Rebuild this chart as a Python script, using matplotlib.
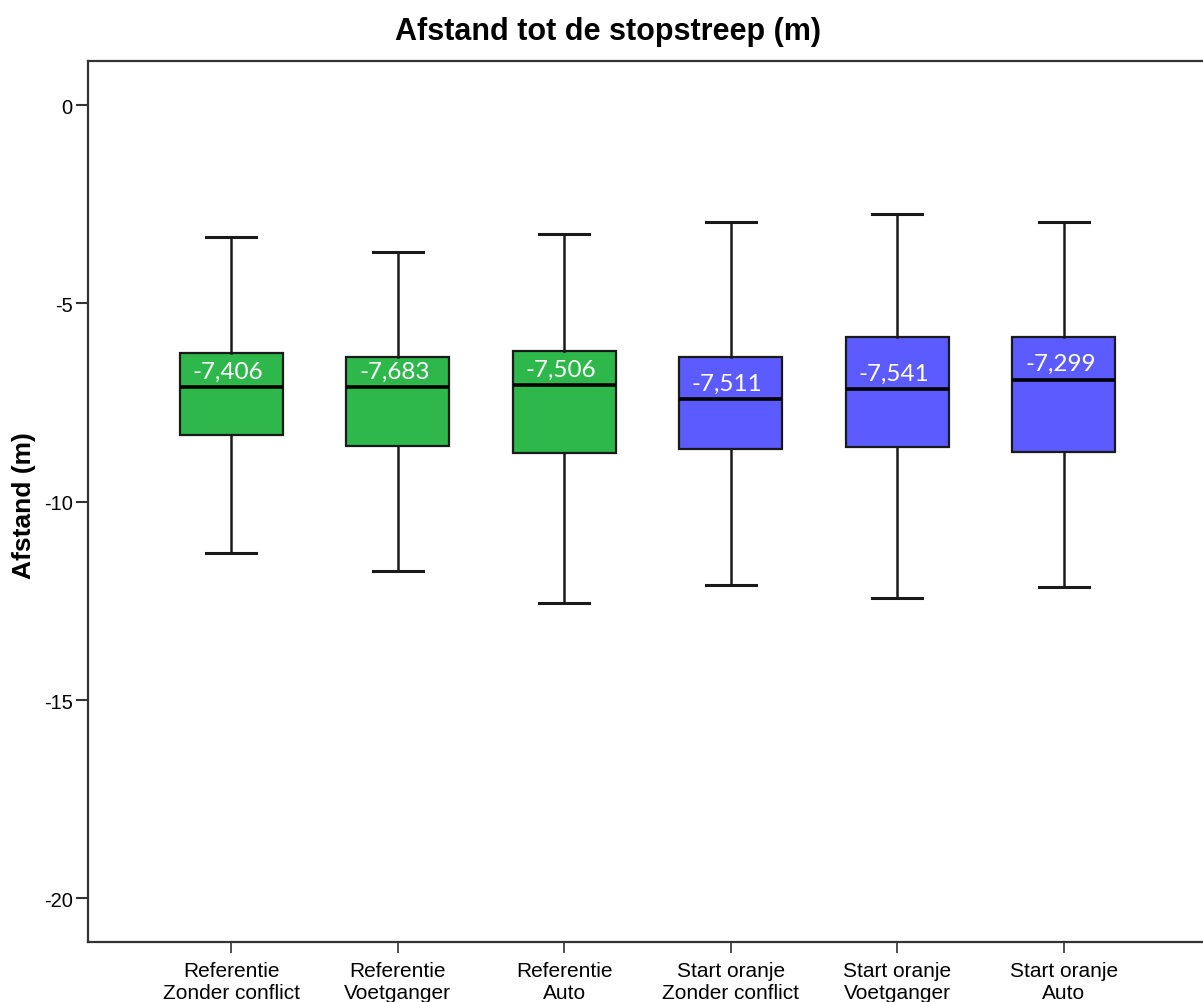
import matplotlib
matplotlib.use("Agg")
import matplotlib.pyplot as plt

plt.rcParams["font.family"] = ["Liberation Sans", "DejaVu Sans"]
plt.rcParams["axes.unicode_minus"] = False

# Groups and their box statistics (m)
categories = ["Referentie\nZonder conflict", "Referentie\nVoetganger", "Referentie\nAuto",
              "Start oranje\nZonder conflict", "Start oranje\nVoetganger", "Start oranje\nAuto"]
whisker_high = [-3.33, -3.71, -3.26, -2.95, -2.74, -2.94]
q3 = [-6.25, -6.36, -6.21, -6.36, -5.85, -5.85]
median = [-7.11, -7.11, -7.07, -7.41, -7.17, -6.92]
q1 = [-8.33, -8.59, -8.78, -8.67, -8.63, -8.75]
whisker_low = [-11.30, -11.75, -12.56, -12.09, -12.43, -12.16]
mean_labels = ["-7,406", "-7,683", "-7,506", "-7,511", "-7,541", "-7,299"]
colors = ["#2EB84B", "#2EB84B", "#2EB84B", "#5B5BFF", "#5B5BFF", "#5B5BFF"]
yticks = [0, -5, -10, -15, -20]

fig = plt.figure(figsize=(12.03, 10.03), dpi=100)
ax = fig.add_axes([0.0732, 0.0598, 0.93, 0.878])

stats = []
for i in range(len(categories)):
    stats.append(dict(med=median[i], q1=q1[i], q3=q3[i],
                      whislo=whisker_low[i], whishi=whisker_high[i], fliers=[]))

positions = list(range(1, len(categories) + 1))
bp = ax.bxp(stats, positions=positions, widths=0.62, capwidths=0.30,
            showfliers=False, patch_artist=True,
            boxprops=dict(linewidth=1.6, edgecolor="#1a1a1a"),
            whiskerprops=dict(linewidth=1.8, color="#1a1a1a"),
            capprops=dict(linewidth=2.2, color="#1a1a1a"),
            medianprops=dict(linewidth=2.6, color="black"))
for patch, c in zip(bp["boxes"], colors):
    patch.set_facecolor(c)

# Mean value labels just above the median line
for pos, med, lab in zip(positions, median, mean_labels):
    ax.annotate(lab, xy=(pos - 0.02, med), xytext=(0, 4), textcoords="offset points",
                ha="center", va="bottom", color="white", fontsize=17.5,
                family=["Lato", "DejaVu Sans"])

ax.set_xlim(0.14, 6.86)
ax.set_ylim(-21.1, 1.1)
ax.set_yticks(yticks)
ax.set_yticklabels([str(t) for t in yticks])
ax.set_xticks(positions)
ax.set_xticklabels(categories, fontsize=15, linespacing=1.15)
ax.tick_params(axis="y", labelsize=14.5, length=9, width=1.5, color="#333333", pad=2)
ax.tick_params(axis="x", length=8, width=1.2, color="#333333", pad=6)

for sp in ax.spines.values():
    sp.set_linewidth(1.6)
    sp.set_color("#333333")

ax.set_ylabel("Afstand (m)", fontsize=19, fontweight="bold")
ax.yaxis.label.set_verticalalignment("center")
ax.yaxis.set_label_coords(-0.0576, 0.497)
fig.text(0.505, 0.960, "Afstand tot de stopstreep (m)", fontsize=22,
         fontweight="bold", ha="center", va="baseline")

fig.savefig("out.png", dpi=100)
